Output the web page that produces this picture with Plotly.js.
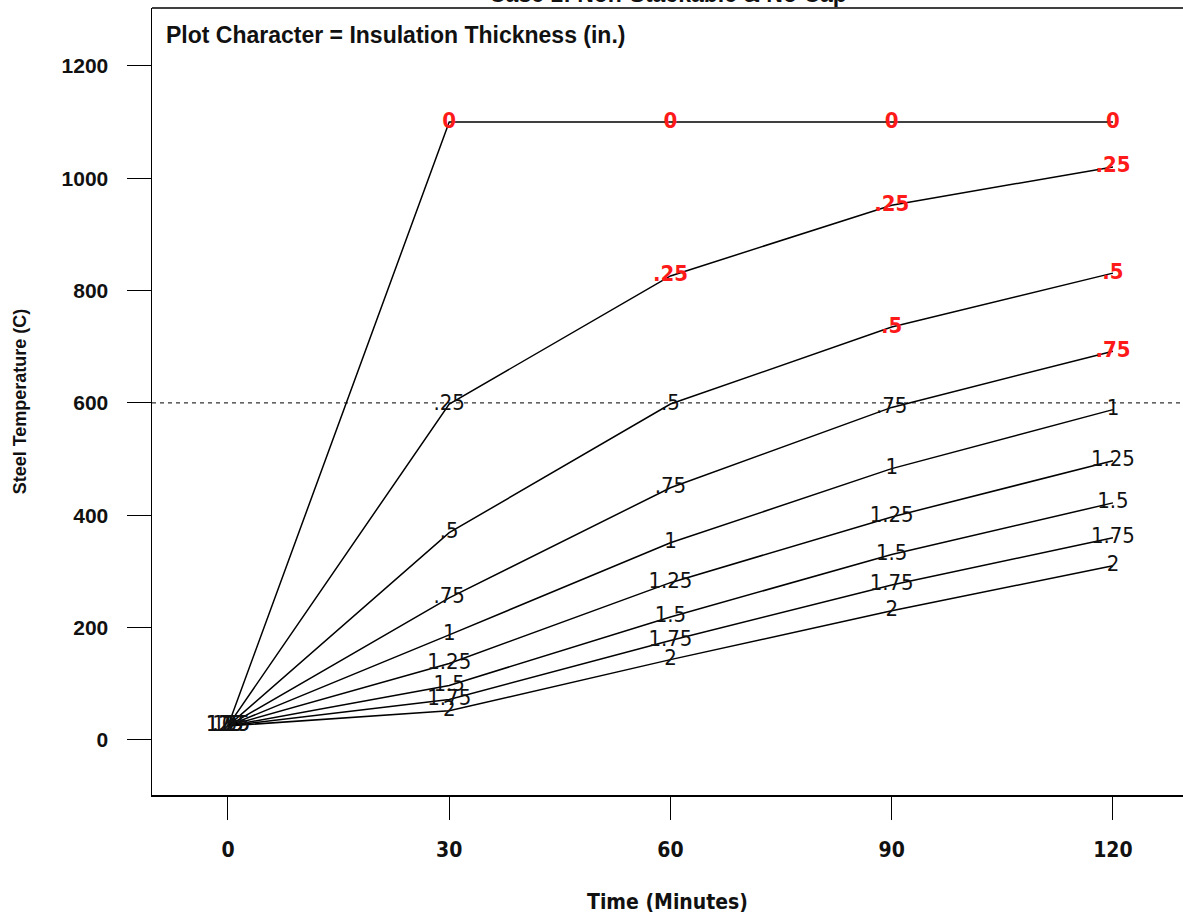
<!DOCTYPE html>
<html>
<head>
<meta charset="utf-8">
<script src="https://cdn.plot.ly/plotly-3.0.1.min.js"></script>
<style>
html, body { margin: 0; padding: 0; background: #fff; overflow: hidden; }
#chart { width: 1183px; height: 914px; }
</style>
</head>
<body>
<div id="chart"></div>
<script>
// ---- data ----
const times = [0, 30, 60, 90, 120];
const thicknessLabels = ['0', '.25', '.5', '.75', '1', '1.25', '1.5', '1.75', '2'];
const temp_0   = [25, 1100, 1100, 1100, 1100];
const temp_025 = [25, 598, 826, 952, 1020];
const temp_05  = [25, 369, 598, 735, 831];
const temp_075 = [25, 253, 449, 592, 692];
const temp_1   = [25, 187, 351, 483, 588];
const temp_125 = [25, 136, 280, 397, 497];
const temp_15  = [25, 97, 219, 330, 422];
const temp_175 = [25, 72, 177, 276, 360];
const temp_2   = [25, 52, 143, 230, 310];
const criticalTemp = 600;
const xTicks = [0, 30, 60, 90, 120];
const yTicks = [0, 200, 400, 600, 800, 1000, 1200];
const chartTitle = 'Case 1: Non-Stackable & No Cap';
const noteText = 'Plot Character = Insulation Thickness (in.)';

const series = [temp_0, temp_025, temp_05, temp_075, temp_1, temp_125, temp_15, temp_175, temp_2];

const condensed = 'DejaVu Sans Condensed, Liberation Sans Narrow, Arial Narrow, sans-serif';
const sans = 'Liberation Sans, Arial, sans-serif';

// ---- traces ----
const traces = [];
series.forEach((ys, i) => {
  traces.push({
    type: 'scatter', mode: 'lines', x: times, y: ys,
    line: {color: '#000', width: 1.5}, hoverinfo: 'skip', showlegend: false
  });
});
const redX = [], redY = [], redT = [], blkX = [], blkY = [], blkT = [];
series.forEach((ys, i) => {
  ys.forEach((v, j) => {
    if (v > criticalTemp) { redX.push(times[j]); redY.push(v); redT.push(thicknessLabels[i]); }
    else { blkX.push(times[j]); blkY.push(v); blkT.push(thicknessLabels[i]); }
  });
});
traces.push({
  type: 'scatter', mode: 'text', x: blkX, y: blkY, text: blkT,
  textposition: 'middle center', cliponaxis: false,
  textfont: {family: condensed, size: 22, color: '#111'},
  hoverinfo: 'skip', showlegend: false
});
traces.push({
  type: 'scatter', mode: 'text', x: redX, y: redY, text: redT,
  textposition: 'middle center', cliponaxis: false,
  textfont: {family: condensed, size: 22, color: '#ff1a1a', weight: 'bold'},
  hoverinfo: 'skip', showlegend: false
});

const layout = {
  width: 1183, height: 914,
  margin: {l: 152, r: 0, t: 8, b: 119, pad: 0},
  paper_bgcolor: '#fff', plot_bgcolor: '#fff',
  showlegend: false,
  xaxis: {
    range: [-10.3, 129.5], tickvals: xTicks, ticktext: xTicks.map(String),
    showgrid: false, zeroline: false, showline: true, linecolor: '#000', linewidth: 1.5,
    ticks: 'outside', ticklen: 23, tickwidth: 1, tickcolor: '#000',
    ticklabelstandoff: 12,
    tickfont: {family: condensed, size: 21, color: '#111', weight: 'bold'},
    title: {text: 'Time (Minutes)', standoff: 34,
      font: {family: condensed, size: 21, color: '#111', weight: 'bold'}},
    automargin: false, fixedrange: true
  },
  yaxis: {
    range: [-98, 1303], tickvals: yTicks, ticktext: yTicks.map(String),
    showgrid: false, zeroline: false, showline: true, linecolor: '#000', linewidth: 1.5,
    ticks: 'outside', ticklen: 24, tickwidth: 1, tickcolor: '#000',
    ticklabelstandoff: 14,
    tickfont: {family: sans, size: 21, color: '#111', weight: 'bold'},
    title: {text: 'Steel Temperature (C)', standoff: 30,
      font: {family: sans, size: 18, color: '#111', weight: 'bold'}},
    automargin: false, fixedrange: true
  },
  shapes: [
    {type: 'line', xref: 'paper', yref: 'y', x0: 0, x1: 1, y0: criticalTemp, y1: criticalTemp,
     line: {color: '#000', width: 1, dash: '4px,4px'}},
    {type: 'line', xref: 'paper', yref: 'paper', x0: 0, x1: 1, y0: 1, y1: 1,
     line: {color: '#000', width: 1.5}}
  ],
  annotations: [
    {text: noteText, xref: 'paper', yref: 'paper', x: 0.0116, y: 0.966, xanchor: 'left', yanchor: 'middle',
     showarrow: false, font: {family: sans, size: 23, color: '#111', weight: 'bold'}},
    {text: chartTitle, xref: 'paper', yref: 'paper', x: 0.5, y: 1.0175, xanchor: 'center', yanchor: 'middle',
     showarrow: false, font: {family: sans, size: 23, color: '#111', weight: 'bold'}}
  ]
};

Plotly.newPlot('chart', traces, layout, {displayModeBar: false, staticPlot: true});
</script>
</body>
</html>
